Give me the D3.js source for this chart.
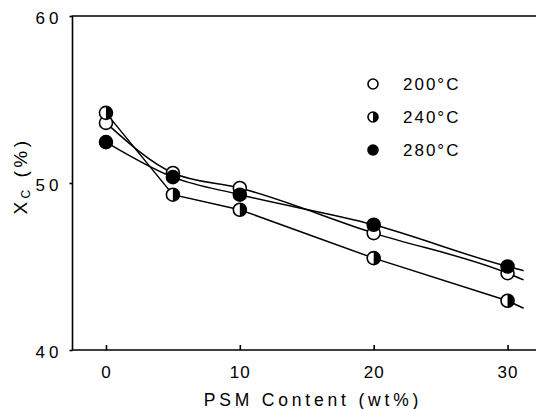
<!DOCTYPE HTML>
<html>
<head>
  <meta charset="UTF-8" />
  <script src="https://d3js.org/d3.v7.min.js"></script>
  <style>
    body { margin: 0; background: #fff; }
    svg { display: block; background: #fff; }
    text { font-family: "Liberation Sans", "DejaVu Sans", sans-serif; fill: #000; }
  </style>
</head>
<body>
<svg width="537" height="409"></svg>
<script>
  // PSM content (wt%) and crystallinity Xc (%)
  var psm = [0, 5, 10, 20, 30];
  var xc200 = [53.6, 50.6, 49.7, 47.0, 44.6];
  var xc240 = [54.2, 49.3, 48.4, 45.5, 42.95];
  var xc280 = [52.45, 50.35, 49.3, 47.5, 45.0];
  // where the drawn fit lines stop, past the last point
  var lineEndX = 31.2;
  var lineEnd = [44.2, 42.5, 44.75];
  var xTicks = [0, 10, 20, 30];
  var yTicks = [40, 50, 60];
  var seriesNames = ["200°C", "240°C", "280°C"];

  var svg = d3.select("svg");
  var x = d3.scaleLinear().domain([-2.5, 32.2]).range([72.5, 537]);
  var y = d3.scaleLinear().domain([40, 60]).range([350, 16]);

  // frame: left, top and bottom only
  svg.append("path")
    .attr("d", "M536," + y(60) + "H" + x(-2.5) + "V" + y(40) + "H536")
    .attr("fill", "none").attr("stroke", "#000").attr("stroke-width", 1.6);

  var xAxis = svg.append("g")
    .attr("transform", "translate(0," + y(40) + ")")
    .call(d3.axisBottom(x).tickValues(xTicks).tickSizeInner(-5).tickSizeOuter(0).tickPadding(16));
  xAxis.select(".domain").remove();
  xAxis.selectAll("line").attr("stroke-width", 1.6);
  xAxis.selectAll("text").attr("font-size", 17).attr("letter-spacing", 1)
    .attr("font-family", null).attr("dy", "0.7em");

  var yAxis = svg.append("g")
    .attr("transform", "translate(" + x(-2.5) + ",0)")
    .call(d3.axisLeft(y).tickValues(yTicks).tickSize(3).tickPadding(7));
  yAxis.select(".domain").remove();
  yAxis.selectAll("line").attr("stroke-width", 1.6);
  yAxis.selectAll("text").attr("font-size", 17).attr("letter-spacing", 4)
    .attr("font-family", null).attr("dy", "0.45em");

  // fitted lines
  var series = [xc200, xc240, xc280];
  var curves = [d3.curveMonotoneX, d3.curveLinear, d3.curveMonotoneX];
  series.forEach(function(vals, i) {
    var pts = psm.map(function(p, j) { return [p, vals[j]]; });
    pts.push([lineEndX, lineEnd[i]]);
    svg.append("path")
      .datum(pts)
      .attr("fill", "none").attr("stroke", "#000").attr("stroke-width", 1.5)
      .attr("d", d3.line().curve(curves[i])
        .x(function(d) { return x(d[0]); })
        .y(function(d) { return y(d[1]); }));
  });

  var halfArc = d3.arc().innerRadius(0).startAngle(0).endAngle(Math.PI);

  function marker(g, kind, r) {
    g.append("circle").attr("r", r)
      .attr("fill", kind == 2 ? "#000" : "#fff")
      .attr("stroke", "#000").attr("stroke-width", 1.6);
    if (kind == 1) {
      g.append("path").attr("d", halfArc.outerRadius(r)()).attr("fill", "#000");
    }
  }

  series.forEach(function(vals, i) {
    svg.append("g").selectAll("g")
      .data(psm.map(function(p, j) { return [p, vals[j]]; }))
      .enter().append("g")
      .attr("transform", function(d) { return "translate(" + x(d[0]) + "," + y(d[1]) + ")"; })
      .each(function() { marker(d3.select(this), i, 6.5); });
  });

  // legend
  var legendY = [84, 117, 150];
  seriesNames.forEach(function(name, i) {
    marker(svg.append("g").attr("transform", "translate(373," + legendY[i] + ")"), i, 5);
    svg.append("text").attr("x", 403).attr("y", legendY[i] + 6)
      .attr("font-size", 17).attr("letter-spacing", 2).text(name);
  });

  // axis titles
  svg.append("text")
    .attr("x", 313).attr("y", 406)
    .attr("text-anchor", "middle").attr("font-size", 17.5).attr("letter-spacing", 3.8)
    .text("PSM Content (wt%)");

  var yt = svg.append("text")
    .attr("transform", "translate(27,176) rotate(-90)")
    .attr("text-anchor", "middle").attr("font-size", 19).attr("letter-spacing", 3.5);
  yt.append("tspan").text("X");
  yt.append("tspan").attr("font-size", 12).attr("dy", 3).text("C");
  yt.append("tspan").attr("dy", -3).text(" (%)");
</script>
</body>
</html>
